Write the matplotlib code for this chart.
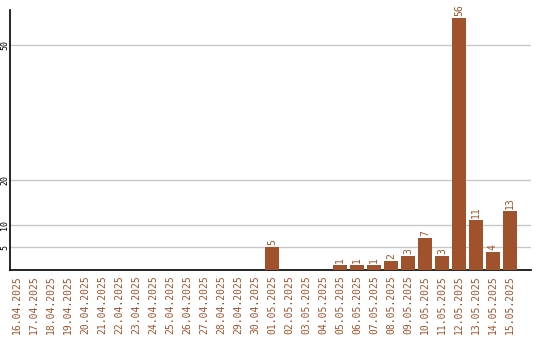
import matplotlib
matplotlib.use('Agg')
import matplotlib.pyplot as plt
import numpy as np

# daily counts
dates = ['16.04.2025', '17.04.2025', '18.04.2025', '19.04.2025', '20.04.2025',
         '21.04.2025', '22.04.2025', '23.04.2025', '24.04.2025', '25.04.2025',
         '26.04.2025', '27.04.2025', '28.04.2025', '29.04.2025', '30.04.2025',
         '01.05.2025', '02.05.2025', '03.05.2025', '04.05.2025', '05.05.2025',
         '06.05.2025', '07.05.2025', '08.05.2025', '09.05.2025', '10.05.2025',
         '11.05.2025', '12.05.2025', '13.05.2025', '14.05.2025', '15.05.2025']
counts = [0, 0, 0, 0, 0, 0, 0, 0, 0, 0, 0, 0, 0, 0, 0,
          5, 0, 0, 0, 1, 1, 1, 2, 3, 7, 3, 56, 11, 4, 13]
y_ticks = [5, 10, 20, 50]

bar_color = '#a0522d'
font = 'DejaVu Sans Mono'

fig = plt.figure(figsize=(5.4, 3.4), dpi=100)
ax = fig.add_axes([0.0194, 0.206, 0.964, 0.765])

x = np.arange(len(dates))
bars = ax.bar(x, counts, width=0.82, color=bar_color, zorder=3)

for rect, v in zip(bars, counts):
    if v == 0:
        continue
    ax.text(rect.get_x() + rect.get_width() / 2, v + 0.5, str(v),
            rotation=90, ha='center', va='bottom', color=bar_color,
            fontsize=7, family=font)

ax.set_xlim(-0.38, 30.24)
ax.set_ylim(0, 57.8)
ax.set_xticks(x)
ax.set_xticklabels(dates, rotation=90, color=bar_color, fontsize=7, family=font)
ax.set_yticks(y_ticks)
ax.set_yticklabels([str(t) for t in y_ticks], rotation=90, va='center',
                   fontsize=6, family=font)
ax.tick_params(axis='x', length=0, pad=4)
ax.tick_params(axis='y', length=0, pad=1)
ax.grid(axis='y', color='#c8c8c8', linewidth=1, zorder=0)

for side in ['top', 'right']:
    ax.spines[side].set_visible(False)
ax.spines['left'].set_linewidth(1.2)
ax.spines['bottom'].set_linewidth(1.2)

fig.savefig('out.png', dpi=100)
